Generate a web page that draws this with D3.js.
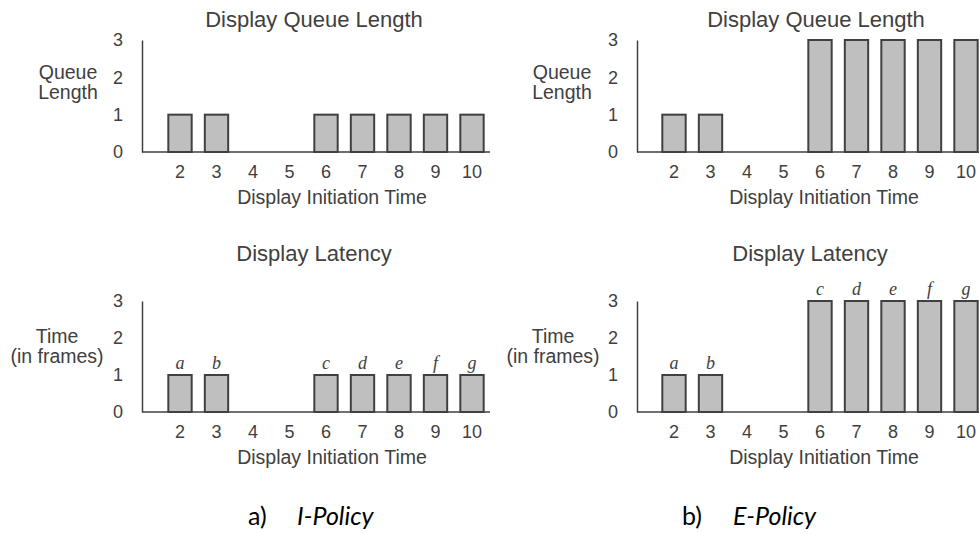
<!DOCTYPE html>
<html>
<head>
<meta charset="utf-8">
<script src="https://cdn.jsdelivr.net/npm/d3@7"></script>
<style>
  html, body { margin: 0; padding: 0; background: #fff; }
  svg { display: block; }
  text { font-family: Arial, "Liberation Sans", Arimo, sans-serif; fill: #404040; }
</style>
</head>
<body>
<svg id="chart" width="979" height="534"></svg>
<script>
const SANS = 'Arial, "Liberation Sans", Arimo, sans-serif';

// Display initiation times (frames) on the x axis
const initTimes = [2, 3, 4, 5, 6, 7, 8, 9, 10];
const yTicks = [0, 1, 2, 3];

// I-Policy
const iQueueLength = [1, 1, 0, 0, 1, 1, 1, 1, 1];
const iLatency     = [1, 1, 0, 0, 1, 1, 1, 1, 1];
// E-Policy
const eQueueLength = [1, 1, 0, 0, 3, 3, 3, 3, 3];
const eLatency     = [1, 1, 0, 0, 3, 3, 3, 3, 3];

// Frame names written above the latency bars
const frameNames = ["a", "b", "", "", "c", "d", "e", "f", "g"];

const captions = [["a)", "I-Policy"], ["b)", "E-Policy"]];

const svg = d3.select("#chart");

const panels = [
  { title: "Display Queue Length", values: iQueueLength, names: null,
    left: 142, bandStart: 161.75, bandEnd: 490.25, top: 40, base: 152,
    titleX: 314, titleY: 27, ylab: ["Queue", "Length"], ylabX: 68, ylabY: [79, 99],
    xTitleX: 332, lineEnd: 490 },
  { title: "Display Latency", values: iLatency, names: frameNames,
    left: 142, bandStart: 161.75, bandEnd: 490.25, top: 301, base: 412,
    titleX: 314, titleY: 261, ylab: ["Time", "(in frames)"], ylabX: 57, ylabY: [343, 363],
    xTitleX: 332, lineEnd: 490 },
  { title: "Display Queue Length", values: eQueueLength, names: null,
    left: 637, bandStart: 655.75, bandEnd: 984.25, top: 40, base: 152,
    titleX: 816, titleY: 27, ylab: ["Queue", "Length"], ylabX: 562, ylabY: [79, 99],
    xTitleX: 824, lineEnd: 979 },
  { title: "Display Latency", values: eLatency, names: frameNames,
    left: 637, bandStart: 655.75, bandEnd: 984.25, top: 301, base: 412,
    titleX: 810, titleY: 261, ylab: ["Time", "(in frames)"], ylabX: 553, ylabY: [343, 363],
    xTitleX: 824, lineEnd: 979 }
];

panels.forEach(p => {
  const g = svg.append("g");
  const x = d3.scaleBand().domain(initTimes).range([p.bandStart, p.bandEnd])
    .paddingInner(0.36).paddingOuter(0.18);
  const y = d3.scaleLinear().domain([0, 3]).range([p.base, p.top]);

  // chart title
  g.append("text").attr("x", p.titleX).attr("y", p.titleY)
    .attr("text-anchor", "middle").style("font-size", "22px").text(p.title);

  // y axis
  const yAxis = g.append("g").attr("transform", `translate(${p.left},0)`)
    .call(d3.axisLeft(y).tickValues(yTicks).tickFormat(d3.format("d"))
      .tickSize(0).tickPadding(19));
  yAxis.select(".domain").attr("stroke", "#404040").attr("stroke-width", 1.5);
  yAxis.selectAll("text").style("font-size", "18px").attr("fill", "#404040")
    .style("font-family", SANS);

  // y axis label (two lines)
  p.ylab.forEach((t, i) => {
    g.append("text").attr("x", p.ylabX).attr("y", p.ylabY[i])
      .attr("text-anchor", "middle").style("font-size", "19.5px").text(t);
  });

  // bars
  const data = initTimes.map((t, i) => ({ t, v: p.values[i], name: p.names ? p.names[i] : "" }));
  g.selectAll("rect.bar").data(data.filter(d => d.v > 0)).join("rect")
    .attr("class", "bar")
    .attr("x", d => x(d.t)).attr("width", x.bandwidth())
    .attr("y", d => y(d.v)).attr("height", d => y(0) - y(d.v))
    .attr("fill", "#bfbfbf").attr("stroke", "#404040").attr("stroke-width", 2);

  // frame names above bars
  if (p.names) {
    g.selectAll("text.fname").data(data.filter(d => d.v > 0 && d.name)).join("text")
      .attr("class", "fname")
      .attr("x", d => x(d.t) + x.bandwidth() / 2)
      .attr("y", d => y(d.v) - 6)
      .attr("text-anchor", "middle")
      .style("font-family", '"Times New Roman", "Liberation Serif", serif')
      .style("font-style", "italic").style("font-size", "18px")
      .text(d => d.name);
  }

  // baseline across the plot
  g.append("line").attr("x1", p.left).attr("x2", p.lineEnd)
    .attr("y1", y(0)).attr("y2", y(0))
    .attr("stroke", "#404040").attr("stroke-width", 1.5);

  // x axis tick labels
  const xAxis = g.append("g").attr("transform", `translate(0,${p.base})`)
    .call(d3.axisBottom(x).tickSize(0).tickPadding(13.5));
  xAxis.select(".domain").remove();
  xAxis.selectAll("text").style("font-size", "18px").attr("fill", "#404040")
    .style("font-family", SANS);

  // x axis title
  g.append("text").attr("x", p.xTitleX).attr("y", p.base + 52)
    .attr("text-anchor", "middle").style("font-size", "19.5px")
    .text("Display Initiation Time");
});

// sub-figure captions
const capPos = [[248, 297], [682, 733]];
captions.forEach((c, i) => {
  const cap = svg.append("text").attr("y", 525)
    .style("font-family", 'Lato, "Open Sans", sans-serif').style("font-size", "25px")
    .style("fill", "#000");
  cap.append("tspan").attr("x", capPos[i][0]).text(c[0]);
  cap.append("tspan").attr("x", capPos[i][1]).style("font-style", "italic").text(c[1]);
});
</script>
</body>
</html>
